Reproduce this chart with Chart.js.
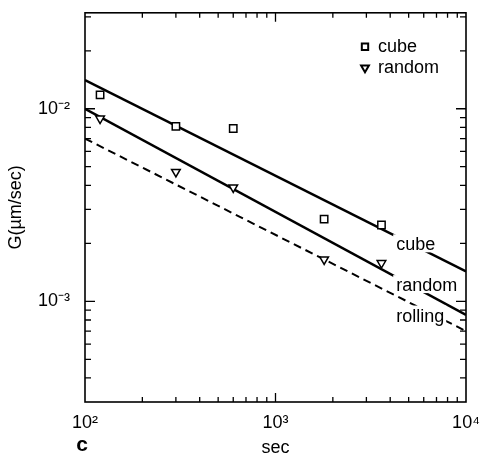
<!DOCTYPE html>
<html><head><meta charset="utf-8">
<script src="https://cdn.jsdelivr.net/npm/chart.js@4/dist/chart.umd.min.js"></script>
<style>html,body{margin:0;padding:0;background:#fff}#wrap{width:481px;height:457px;position:relative}</style>
</head><body><div id="wrap"><canvas id="c"></canvas></div>
<script>
// ---- data ----
const times = [120, 300, 600, 1800, 3600];
const cubeG = [1.18e-2, 8.1e-3, 7.9e-3, 2.67e-3, 2.49e-3];
const randomG = [8.9e-3, 4.7e-3, 3.9e-3, 1.65e-3, 1.58e-3];
const fitTimes = [100, 10000];
const cubeFit = [1.41e-2, 1.43e-3];
const randomFit = [1.0e-2, 8.5e-4];
const rollingFit = [7.0e-3, 7.0e-4];
const seriesNames = ['cube', 'random'];
const lineNames = ['cube', 'random', 'rolling'];
const lineLabelTime = [4300, 4300, 4300];
const lineLabelG = [1.84e-3, 1.13e-3, 7.85e-4];
const xTickValues = [100, 1000, 10000];
const xTickLabels = ['10²', '10³', '10⁴'];
const yTickValues = [1e-3, 1e-2];
const yTickLabels = ['10⁻³', '10⁻²'];
const xTitle = 'sec';
const yTitle = 'G(µm/sec)';
const panelLetter = 'c';

const FONT = '"Liberation Sans", Arial, Helvetica, sans-serif';
const pts = (xs, ys) => xs.map((v, i) => ({x: v, y: ys[i]}));
const labelFor = (vals, labs) => (v) => {
  for (let i = 0; i < vals.length; i++) if (Math.abs(v / vals[i] - 1) < 1e-6) return labs[i];
  return '';
};

const deco = {
  id: 'deco',
  afterDatasetsDraw(chart) {
    const {ctx, chartArea: a, scales: {x, y}} = chart;
    ctx.save();
    // labels on fit lines (baseline at the anchor), white box breaks the line
    ctx.font = '18px ' + FONT;
    ctx.textBaseline = 'alphabetic';
    ctx.textAlign = 'left';
    lineNames.forEach((t, i) => {
      const px = x.getPixelForValue(lineLabelTime[i]);
      const py = y.getPixelForValue(lineLabelG[i]);
      const m = ctx.measureText(t);
      const asc = m.actualBoundingBoxAscent, desc = m.actualBoundingBoxDescent;
      ctx.fillStyle = '#fff';
      ctx.fillRect(px - 3, py - asc - 3, m.width + 5, asc + desc + 5);
      ctx.fillStyle = '#000';
      ctx.fillText(t, px, py);
    });
    // legend
    ctx.textBaseline = 'middle';
    const lx = a.right - 101, ly = [a.top + 34, a.top + 55];
    const styles = [{pointStyle: 'rect', radius: 4.5, rotation: 0, borderWidth: 2},
                    {pointStyle: 'triangle', radius: 4.5, rotation: 180, borderWidth: 2}];
    seriesNames.forEach((t, i) => {
      ctx.strokeStyle = '#000';
      ctx.fillStyle = '#fff';
      ctx.lineWidth = 2;
      Chart.helpers.drawPoint(ctx, styles[i], lx, ly[i]);
      ctx.fillStyle = '#000';
      ctx.fillText(t, lx + 13, ly[i]);
    });
    // panel letter
    ctx.font = 'bold 21px ' + FONT;
    ctx.textAlign = 'center';
    ctx.textBaseline = 'alphabetic';
    ctx.fillText(panelLetter, 82, 451);
    ctx.restore();
  },
  afterDraw(chart) {
    const {ctx, chartArea: a, scales: {x, y}} = chart;
    ctx.save();
    ctx.strokeStyle = '#000';
    ctx.lineWidth = 1.6;
    ctx.strokeRect(a.left, a.top, a.right - a.left, a.bottom - a.top);
    ctx.lineWidth = 1.3;
    const isNice = (v) => {
      const e = Math.floor(Math.log10(v) + 1e-9);
      const s = v / Math.pow(10, e);
      return Math.abs(s - Math.round(s)) < 1e-6 ? Math.round(s) : 0;
    };
    ctx.beginPath();
    x.ticks.forEach(t => {
      const s = isNice(t.value);
      if (!s) return;
      const px = x.getPixelForValue(t.value);
      if (px < a.left + 1 || px > a.right - 1) return;
      const L = s === 1 ? 9 : 5;
      ctx.moveTo(px, a.bottom); ctx.lineTo(px, a.bottom - L);
      ctx.moveTo(px, a.top); ctx.lineTo(px, a.top + L);
    });
    y.ticks.forEach(t => {
      const s = isNice(t.value);
      if (!s) return;
      const py = y.getPixelForValue(t.value);
      if (py < a.top + 1 || py > a.bottom - 1) return;
      const L = s === 1 ? 10 : 6;
      ctx.moveTo(a.left, py); ctx.lineTo(a.left + L, py);
      ctx.moveTo(a.right, py); ctx.lineTo(a.right - L, py);
    });
    ctx.stroke();
    ctx.restore();
  }
};

new Chart(document.getElementById('c'), {
  type: 'scatter',
  data: {
    datasets: [
      {label: seriesNames[0], data: pts(times, cubeG), pointStyle: 'rect', pointRadius: 5.2,
       pointBorderWidth: 1.5, borderColor: '#000', backgroundColor: '#fff', showLine: false},
      {label: seriesNames[1], data: pts(times, randomG), pointStyle: 'triangle', pointRotation: 180,
       pointRadius: 5, pointBorderWidth: 1.5, borderColor: '#000', backgroundColor: '#fff', showLine: false},
      {label: lineNames[0] + ' fit', data: pts(fitTimes, cubeFit), showLine: true, pointRadius: 0,
       borderColor: '#000', borderWidth: 2.5},
      {label: lineNames[1] + ' fit', data: pts(fitTimes, randomFit), showLine: true, pointRadius: 0,
       borderColor: '#000', borderWidth: 2.5},
      {label: lineNames[2] + ' fit', data: pts(fitTimes, rollingFit), showLine: true, pointRadius: 0,
       borderColor: '#000', borderWidth: 2, borderDash: [8, 5]}
    ]
  },
  options: {
    responsive: true,
    maintainAspectRatio: false,
    animation: false,
    layout: {padding: {top: 12, right: 15, left: 0, bottom: 0}},
    plugins: {legend: {display: false}, tooltip: {enabled: false}},
    scales: {
      x: {
        type: 'logarithmic', min: 100, max: 10000,
        grid: {display: false, drawTicks: true, tickLength: 10},
        border: {display: false},
        ticks: {autoSkip: false, maxRotation: 0, padding: 0, color: '#000',
                font: {family: FONT, size: 18}, callback: labelFor(xTickValues, xTickLabels)},
        title: {display: true, text: xTitle, color: '#000', font: {family: FONT, size: 18, lineHeight: 1},
                padding: {top: 0, bottom: 0}},
        afterFit(s) { s.height = 55; }
      },
      y: {
        type: 'logarithmic', min: 3.3e-4, max: 3.15e-2,
        grid: {display: false, drawTicks: true, tickLength: 13},
        border: {display: false},
        ticks: {autoSkip: false, padding: 2, color: '#000',
                font: {family: FONT, size: 18}, callback: labelFor(yTickValues, yTickLabels)},
        title: {display: true, text: yTitle, color: '#000', font: {family: FONT, size: 18, lineHeight: 1},
                padding: {top: 7, bottom: 0}},
        afterFit(s) { s.width = 85; }
      }
    }
  },
  plugins: [deco]
});
</script>
</body></html>
